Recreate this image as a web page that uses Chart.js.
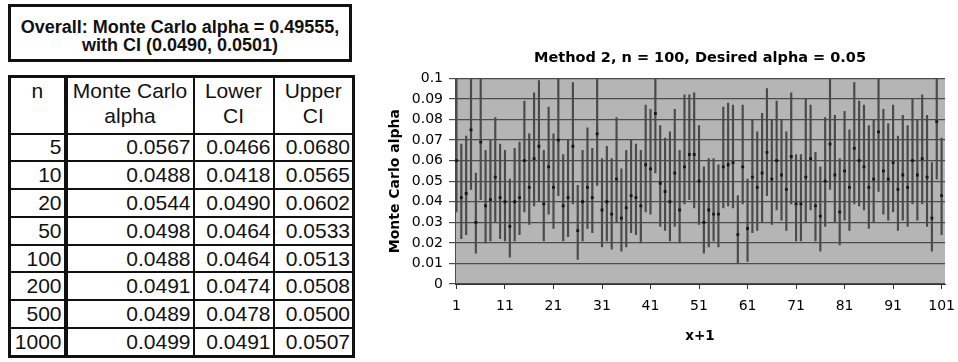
<!DOCTYPE html>
<html>
<head>
<meta charset="utf-8">
<script src="https://cdn.jsdelivr.net/npm/chart.js@4.4.1/dist/chart.umd.min.js"></script>
<style>
  html, body { margin: 0; padding: 0; background: #fff; }
  body { width: 958px; height: 362px; position: relative; overflow: hidden; }
  #overall {
    position: absolute; left: 8px; top: 4px; width: 344px; height: 58px;
    box-sizing: border-box; border: 3px solid #111; padding-top: 11px;
    font: bold 18px "Liberation Sans", Arial, sans-serif; line-height: 18px;
    text-align: center; color: #111;
  }
  #summary {
    position: absolute; left: 8px; top: 75px; width: 344px; height: 283px;
    border-collapse: collapse; table-layout: fixed; border: 3px solid #111;
    font: 21px "Liberation Sans", Arial, sans-serif; color: #111;
  }
  #summary td, #summary th {
    border: 2px solid #111; padding: 0 2px 0 0; text-align: right; font-weight: normal;
    white-space: nowrap; overflow: visible;
  }
  #summary th { text-align: center; line-height: 25px; padding: 0; vertical-align: top; }
  #summary td:first-child, #summary th:first-child { border-right-width: 4px; }
  #chart { position: absolute; left: 370px; top: 0; }
</style>
</head>
<body>
<div id="overall">Overall: Monte Carlo alpha = 0.49555,<br>with CI (0.0490, 0.0501)</div>
<table id="summary">
  <colgroup><col style="width:56px"><col style="width:128px"><col style="width:80px"><col style="width:80px"></colgroup>
  <thead><tr style="height:57px"><th>n</th><th>Monte Carlo<br>alpha</th><th>Lower<br>CI</th><th>Upper<br>CI</th></tr></thead>
  <tbody id="summary-body"></tbody>
</table>
<canvas id="chart" width="588" height="362"></canvas>
<script>
// table on the left
var tableN = [5, 10, 20, 50, 100, 200, 500, 1000];
var tableAlpha = [0.0567, 0.0488, 0.0544, 0.0498, 0.0488, 0.0491, 0.0489, 0.0499];
var tableLower = [0.0466, 0.0418, 0.0490, 0.0464, 0.0464, 0.0474, 0.0478, 0.0491];
var tableUpper = [0.0680, 0.0565, 0.0602, 0.0533, 0.0513, 0.0508, 0.0500, 0.0507];

// chart: one point per run, with its CI
var runs = [1, 2, 3, 4, 5, 6, 7, 8, 9, 10, 11, 12, 13, 14, 15, 16, 17, 18, 19, 20,
  21, 22, 23, 24, 25, 26, 27, 28, 29, 30, 31, 32, 33, 34, 35, 36, 37, 38, 39, 40,
  41, 42, 43, 44, 45, 46, 47, 48, 49, 50, 51, 52, 53, 54, 55, 56, 57, 58, 59, 60,
  61, 62, 63, 64, 65, 66, 67, 68, 69, 70, 71, 72, 73, 74, 75, 76, 77, 78, 79, 80,
  81, 82, 83, 84, 85, 86, 87, 88, 89, 90, 91, 92, 93, 94, 95, 96, 97, 98, 99, 100, 101];
var alphaValues = [0.060, 0.042, 0.044, 0.075, 0.030, 0.069, 0.038, 0.041, 0.052, 0.042,
  0.040, 0.028, 0.040, 0.042, 0.060, 0.047, 0.061, 0.067, 0.039, 0.057,
  0.047, 0.070, 0.038, 0.042, 0.067, 0.026, 0.040, 0.047, 0.042, 0.073,
  0.036, 0.040, 0.034, 0.051, 0.032, 0.037, 0.043, 0.042, 0.038, 0.058,
  0.056, 0.083, 0.049, 0.045, 0.040, 0.054, 0.036, 0.057, 0.063, 0.063,
  0.050, 0.030, 0.036, 0.034, 0.034, 0.057, 0.058, 0.059, 0.024, 0.057,
  0.027, 0.052, 0.047, 0.054, 0.064, 0.051, 0.060, 0.053, 0.046, 0.062,
  0.039, 0.039, 0.052, 0.061, 0.038, 0.033, 0.050, 0.068, 0.053, 0.035,
  0.055, 0.047, 0.066, 0.060, 0.057, 0.047, 0.051, 0.074, 0.055, 0.051,
  0.059, 0.046, 0.053, 0.047, 0.060, 0.053, 0.061, 0.052, 0.032, 0.079, 0.043];
var lowerCI = [0.035, 0.022, 0.024, 0.046, 0.015, 0.041, 0.020, 0.021, 0.030, 0.022,
  0.021, 0.013, 0.021, 0.024, 0.035, 0.029, 0.038, 0.040, 0.021, 0.034,
  0.027, 0.043, 0.021, 0.023, 0.039, 0.012, 0.021, 0.027, 0.025, 0.048,
  0.018, 0.021, 0.017, 0.030, 0.016, 0.018, 0.025, 0.024, 0.020, 0.035,
  0.034, 0.054, 0.028, 0.026, 0.021, 0.028, 0.020, 0.039, 0.041, 0.037,
  0.029, 0.015, 0.018, 0.021, 0.018, 0.037, 0.038, 0.037, 0.010, 0.039,
  0.011, 0.025, 0.026, 0.030, 0.043, 0.029, 0.036, 0.031, 0.026, 0.039,
  0.021, 0.021, 0.030, 0.036, 0.021, 0.016, 0.028, 0.046, 0.030, 0.019,
  0.031, 0.026, 0.039, 0.038, 0.036, 0.027, 0.030, 0.045, 0.034, 0.031,
  0.035, 0.026, 0.031, 0.028, 0.039, 0.031, 0.039, 0.028, 0.016, 0.051, 0.024];
var upperCI = [0.104, 0.068, 0.072, 0.108, 0.054, 0.103, 0.065, 0.070, 0.081, 0.068,
  0.065, 0.051, 0.066, 0.069, 0.089, 0.073, 0.093, 0.099, 0.065, 0.086,
  0.073, 0.103, 0.063, 0.070, 0.098, 0.048, 0.065, 0.076, 0.066, 0.104,
  0.061, 0.067, 0.061, 0.081, 0.056, 0.065, 0.070, 0.068, 0.065, 0.087,
  0.085, 0.113, 0.077, 0.071, 0.074, 0.085, 0.065, 0.092, 0.092, 0.093,
  0.077, 0.057, 0.061, 0.061, 0.058, 0.086, 0.088, 0.087, 0.043, 0.087,
  0.051, 0.080, 0.074, 0.083, 0.095, 0.080, 0.089, 0.080, 0.074, 0.093,
  0.063, 0.063, 0.090, 0.087, 0.064, 0.057, 0.081, 0.102, 0.082, 0.061,
  0.084, 0.075, 0.098, 0.089, 0.087, 0.077, 0.080, 0.104, 0.085, 0.078,
  0.087, 0.072, 0.082, 0.077, 0.090, 0.080, 0.092, 0.082, 0.059, 0.106, 0.071];
var xTicks = [1, 11, 21, 31, 41, 51, 61, 71, 81, 91, 101];
var yTicks = [0, 0.01, 0.02, 0.03, 0.04, 0.05, 0.06, 0.07, 0.08, 0.09, 0.1];

var body = document.getElementById('summary-body');
for (var r = 0; r < tableN.length; r++) {
    var tr = document.createElement('tr');
    tr.innerHTML = '<td>' + tableN[r] + '</td><td>' + tableAlpha[r].toFixed(4) + '</td><td>' +
        tableLower[r].toFixed(4) + '</td><td>' + tableUpper[r].toFixed(4) + '</td>';
    body.appendChild(tr);
}

var plotBackground = {
    id: 'plotBackground',
    beforeDraw: function(chart) {
        var ctx = chart.ctx, a = chart.chartArea;
        ctx.save();
        ctx.fillStyle = '#b5b5b5';
        ctx.fillRect(a.left, a.top, a.right - a.left, a.bottom - a.top);
        ctx.restore();
    }
};

var tickFont = { family: "'DejaVu Sans', sans-serif", size: 14 };
var boldFont = function(size) { return { family: "'DejaVu Sans', sans-serif", size: size, weight: 'bold' }; };

new Chart(document.getElementById('chart'), {
    type: 'bar',
    data: {
        datasets: [{
            type: 'line',
            label: 'Monte Carlo alpha',
            data: runs.map(function(x, i) { return { x: x, y: alphaValues[i] }; }),
            showLine: false,
            pointStyle: 'rect',
            pointRadius: 2,
            pointBorderWidth: 0,
            pointBackgroundColor: '#161616',
            order: 0
        }, {
            type: 'bar',
            label: 'CI',
            data: runs.map(function(x, i) { return { x: x, y: [lowerCI[i], upperCI[i]] }; }),
            backgroundColor: '#4a4a4a',
            barThickness: 1.5,
            order: 1
        }]
    },
    options: {
        responsive: false,
        animation: false,
        layout: { padding: { left: 0, right: 0, top: 0, bottom: 0 } },
        plugins: {
            legend: { display: false },
            tooltip: { enabled: false },
            title: {
                display: true,
                text: 'Method 2, n = 100, Desired alpha = 0.05',
                fullSize: false,
                color: '#000',
                font: boldFont(14.5),
                padding: { top: 50, bottom: 11 }
            }
        },
        scales: {
            x: {
                type: 'linear',
                offset: false,
                min: 0.7,
                max: 101.7,
                afterBuildTicks: function(axis) { axis.ticks = xTicks.map(function(v) { return { value: v }; }); },
                afterFit: function(axis) { axis.height = 78; axis.paddingRight = 13; },
                grid: { offset: false, drawOnChartArea: false, tickLength: 5, color: '#333' },
                border: { color: '#333', width: 1 },
                ticks: { color: '#000', font: tickFont, padding: 9, maxRotation: 0, autoSkip: false },
                title: { display: true, text: 'x+1', color: '#000', font: boldFont(13.5), padding: { top: 0, bottom: 17 } }
            },
            y: {
                min: 0,
                max: 0.1,
                afterBuildTicks: function(axis) { axis.ticks = yTicks.map(function(v) { return { value: v }; }); },
                afterFit: function(axis) { axis.width = 85; },
                grid: { color: '#4c4c4c', lineWidth: 1.2, tickLength: 6 },
                border: { color: '#4c4c4c', width: 1 },
                ticks: {
                    color: '#000', font: tickFont, padding: 6,
                    callback: function(v) { return String(Math.round(v * 100) / 100); }
                },
                title: { display: true, text: 'Monte Carlo alpha', color: '#000', font: boldFont(14), padding: { top: 16.6, bottom: 0 } }
            }
        }
    },
    plugins: [plotBackground]
});
</script>
</body>
</html>
